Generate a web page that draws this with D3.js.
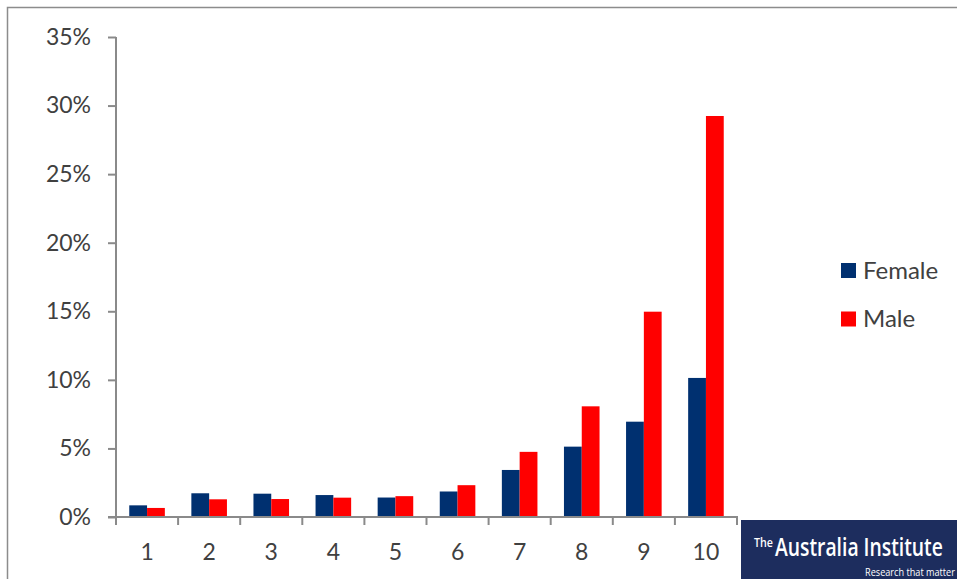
<!DOCTYPE html>
<html>
<head>
<meta charset="utf-8">
<script src="https://cdn.jsdelivr.net/npm/d3@7/dist/d3.min.js"></script>
<style>
  html, body { margin: 0; padding: 0; background: #fff; }
  svg { display: block; }
</style>
</head>
<body>
<svg id="chart" width="957" height="579"></svg>
<script>
// Deciles 1-10, share of each group falling in that decile
const categories = ["1", "2", "3", "4", "5", "6", "7", "8", "9", "10"];
const seriesNames = ["Female", "Male"];
const femaleValues = [0.85, 1.73, 1.70, 1.60, 1.42, 1.86, 3.43, 5.13, 6.95, 10.14];
const maleValues = [0.66, 1.29, 1.31, 1.41, 1.52, 2.32, 4.75, 8.07, 14.97, 29.24];
const yTicks = [0, 5, 10, 15, 20, 25, 30, 35];

const colors = { Female: "#003070", Male: "#ff0000" };
const axisColor = "#8a8a8a";
const textColor = "#404040";
const font = "Lato, 'Open Sans', 'Liberation Sans', sans-serif";

const svg = d3.select("#chart");

// outer chart frame (runs off the right and bottom edges)
svg.append("rect")
  .attr("x", 7.5).attr("y", 7.5)
  .attr("width", 1000).attr("height", 1000)
  .attr("fill", "none")
  .attr("stroke", "#8c8c8c")
  .attr("stroke-width", 1.5);

const x = d3.scaleBand().domain(categories).range([116, 737]).padding(0);
const xSub = d3.scaleBand().domain(seriesNames)
  .range([0, x.bandwidth()]).paddingInner(0).paddingOuter(0.745);
const y = d3.scaleLinear().domain([0, 35]).range([517, 37]);

const rows = categories.map((c, i) => ({
  cat: c,
  values: [
    { key: "Female", value: femaleValues[i] },
    { key: "Male", value: maleValues[i] }
  ]
}));

// bars
const groups = svg.append("g").selectAll("g")
  .data(rows).join("g")
  .attr("transform", d => `translate(${x(d.cat)},0)`);

groups.selectAll("rect")
  .data(d => d.values).join("rect")
  .attr("x", d => xSub(d.key))
  .attr("width", xSub.bandwidth())
  .attr("y", d => y(d.value))
  .attr("height", d => y(0) - y(d.value))
  .attr("fill", d => colors[d.key]);

// y axis
const yAxis = svg.append("g")
  .attr("transform", "translate(116,0)")
  .call(d3.axisLeft(y).tickValues(yTicks).tickFormat(d => d + "%").tickSize(8).tickPadding(17));
yAxis.select(".domain").attr("stroke", axisColor).attr("stroke-width", 2)
  .attr("d", `M0,${y(35)}H0V${y(0) + 8}`);
yAxis.selectAll(".tick line").attr("stroke", axisColor).attr("stroke-width", 2);
yAxis.selectAll(".tick text")
  .attr("fill", textColor)
  .style("font-family", font)
  .style("font-size", "23px");

// x axis with tick marks at category boundaries
const xAxisG = svg.append("g").attr("transform", `translate(0,${y(0)})`);
xAxisG.append("line")
  .attr("x1", 108).attr("x2", x.range()[1] + 1)
  .attr("stroke", axisColor).attr("stroke-width", 2);
const boundaries = categories.map(c => x(c)).concat([x.range()[1]]);
xAxisG.selectAll("line.tick")
  .data(boundaries).join("line")
  .attr("class", "tick")
  .attr("x1", d => d).attr("x2", d => d)
  .attr("y1", 0).attr("y2", 8)
  .attr("stroke", axisColor).attr("stroke-width", 2);
xAxisG.selectAll("text")
  .data(categories).join("text")
  .attr("x", d => x(d) + x.bandwidth() / 2)
  .attr("y", 43)
  .attr("text-anchor", "middle")
  .attr("fill", textColor)
  .style("font-family", font)
  .style("font-size", "23px")
  .text(d => d);

// legend
const legend = svg.append("g").attr("transform", "translate(841,263)");
const legendItems = legend.selectAll("g")
  .data(seriesNames).join("g")
  .attr("transform", (d, i) => `translate(0,${i * 48.5})`);
legendItems.append("rect")
  .attr("width", 15).attr("height", 15)
  .attr("fill", d => colors[d]);
legendItems.append("text")
  .attr("x", 22).attr("y", 15.5)
  .attr("fill", textColor)
  .style("font-family", font)
  .style("font-size", "24px")
  .text(d => d);

// publisher badge; condensed lettering is made by squeezing each text to its width
const badge = svg.append("g");
badge.append("rect")
  .attr("x", 741).attr("y", 520)
  .attr("width", 216).attr("height", 59)
  .attr("fill", "#1d2d5e");

function condensedText(str, px, py, size, weight, width) {
  const g = badge.append("g");
  const t = g.append("text")
    .attr("fill", "#fff")
    .style("font-family", "'Open Sans', sans-serif")
    .style("font-size", size + "px")
    .style("font-weight", weight)
    .text(str);
  const natural = t.node().getComputedTextLength();
  g.attr("transform", `translate(${px},${py}) scale(${width / natural},1)`);
}
condensedText("The", 754, 547, 13, 600, 19);
condensedText("Australia Institute", 775, 556, 25, 600, 168);
condensedText("Research that matter", 865, 576, 11, 400, 90);
</script>
</body>
</html>
